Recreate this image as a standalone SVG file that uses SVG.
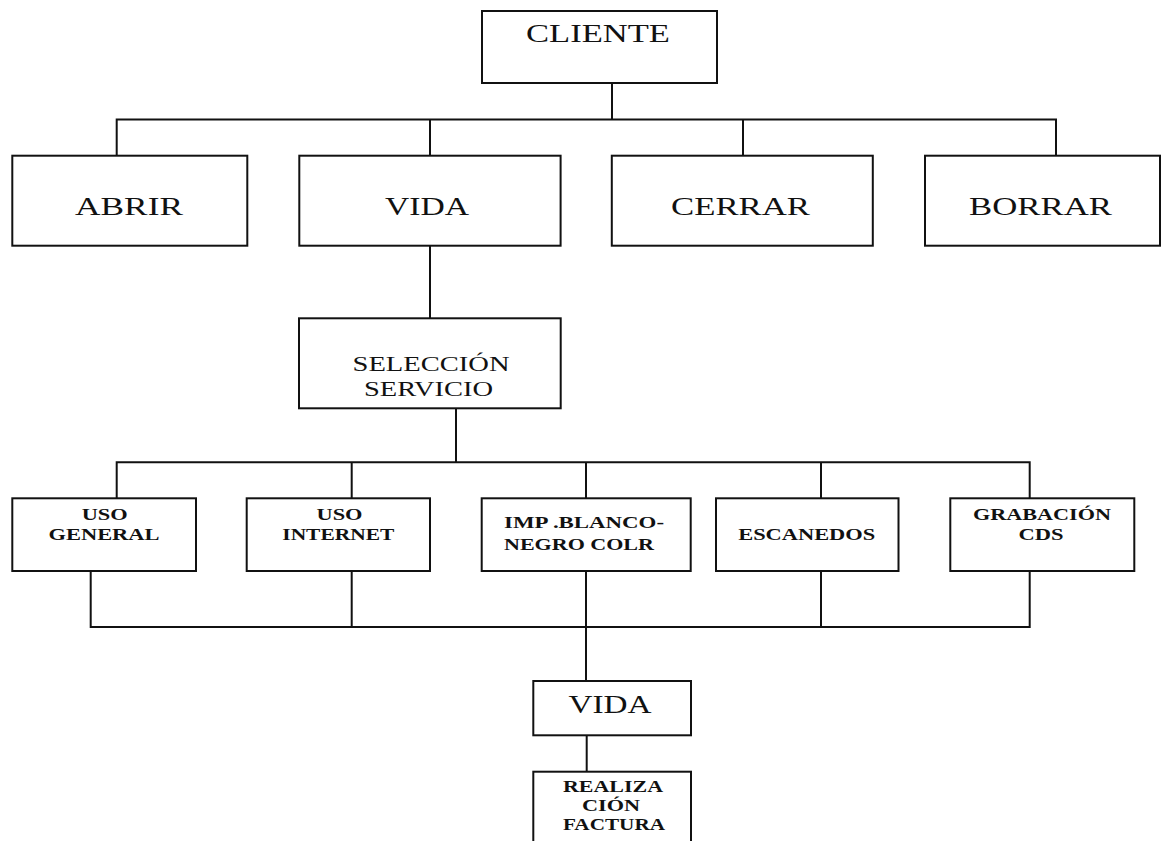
<svg xmlns="http://www.w3.org/2000/svg" width="1167" height="841" viewBox="0 0 1167 841">
<style>
.box{fill:#fff;stroke:#111;stroke-width:2}
.ln{fill:none;stroke:#111;stroke-width:2}
.big{font-family:"Liberation Serif",serif;font-size:26px;fill:#111;text-anchor:middle}
.mid{font-family:"Liberation Serif",serif;font-size:20px;fill:#111;text-anchor:middle}
.sm{font-family:"Liberation Serif",serif;font-size:16.5px;fill:#111;text-anchor:middle;font-weight:bold}
</style>
<rect width="1167" height="841" fill="#fff"/>
<g id="connectors">
<path class="ln" d="M612 83V119.5M116.7 155.7V119.5H1056V155.7M430 119.5V155.7M743 119.5V155.7"/>
<path class="ln" d="M430 245.7V318.3"/>
<path class="ln" d="M456 408.3V462.3M116.7 498.3V462.3H1029.7V498.3M351.7 462.3V498.3M586 462.3V498.3M821 462.3V498.3"/>
<path class="ln" d="M90.7 571V627H1029.7V571M351.7 571V627M586 571V681M821 571V627"/>
<path class="ln" d="M586.7 735.3V771.7"/>
</g>
<g id="cliente"><rect class="box" x="482" y="11" width="235" height="72"/><text class="big" x="598" y="42" font-size="25" textLength="144" lengthAdjust="spacingAndGlyphs">CLIENTE</text></g>
<g id="abrir"><rect class="box" x="12.3" y="155.7" width="235" height="90"/><text class="big" x="129" y="215" textLength="108" lengthAdjust="spacingAndGlyphs">ABRIR</text></g>
<g id="vida"><rect class="box" x="299.3" y="155.7" width="261.3" height="90"/><text class="big" x="427" y="215" textLength="84" lengthAdjust="spacingAndGlyphs">VIDA</text></g>
<g id="cerrar"><rect class="box" x="611.8" y="155.7" width="261" height="90"/><text class="big" x="740.5" y="215" textLength="139" lengthAdjust="spacingAndGlyphs">CERRAR</text></g>
<g id="borrar"><rect class="box" x="925" y="155.7" width="235" height="90"/><text class="big" x="1040.5" y="215" textLength="143" lengthAdjust="spacingAndGlyphs">BORRAR</text></g>
<g id="seleccion"><rect class="box" x="299" y="318.3" width="261.7" height="90"/><text class="mid" x="431" y="371" textLength="157" lengthAdjust="spacingAndGlyphs">SELECCIÓN</text><text class="mid" x="428.5" y="396" textLength="129" lengthAdjust="spacingAndGlyphs">SERVICIO</text></g>
<g id="uso-general"><rect class="box" x="12.3" y="498.3" width="183.7" height="72.7"/><text class="sm" x="104.7" y="519.5" textLength="46" lengthAdjust="spacingAndGlyphs">USO</text><text class="sm" x="104" y="540" textLength="111" lengthAdjust="spacingAndGlyphs">GENERAL</text></g>
<g id="uso-internet"><rect class="box" x="246.7" y="498.3" width="183.3" height="72.7"/><text class="sm" x="339.5" y="519.5" textLength="46" lengthAdjust="spacingAndGlyphs">USO</text><text class="sm" x="338.3" y="540" textLength="112" lengthAdjust="spacingAndGlyphs">INTERNET</text></g>
<g id="imp"><rect class="box" x="481.7" y="498.3" width="209" height="72.7"/><text class="sm" x="584" y="527.5" textLength="160" lengthAdjust="spacingAndGlyphs">IMP .BLANCO-</text><text class="sm" x="579" y="549.5" textLength="150" lengthAdjust="spacingAndGlyphs">NEGRO COLR</text></g>
<g id="escanedos"><rect class="box" x="716" y="498.3" width="182.5" height="72.7"/><text class="sm" x="806.7" y="540" textLength="137" lengthAdjust="spacingAndGlyphs">ESCANEDOS</text></g>
<g id="grabacion"><rect class="box" x="950.3" y="498.3" width="184" height="72.7"/><text class="sm" x="1042" y="519.5" textLength="138" lengthAdjust="spacingAndGlyphs">GRABACIÓN</text><text class="sm" x="1041" y="539.5" textLength="45" lengthAdjust="spacingAndGlyphs">CDS</text></g>
<g id="vida2"><rect class="box" x="533.3" y="681" width="157.7" height="54.3"/><text class="big" x="610" y="712.5" font-size="25" textLength="83" lengthAdjust="spacingAndGlyphs">VIDA</text></g>
<g id="realizacion"><rect class="box" x="533.3" y="771.7" width="157.7" height="90"/><text class="sm" x="613" y="792" font-size="15" textLength="100" lengthAdjust="spacingAndGlyphs">REALIZA</text><text class="sm" x="611" y="811" font-size="15" textLength="58" lengthAdjust="spacingAndGlyphs">CIÓN</text><text class="sm" x="614" y="830" font-size="15" textLength="102" lengthAdjust="spacingAndGlyphs">FACTURA</text></g>
</svg>
